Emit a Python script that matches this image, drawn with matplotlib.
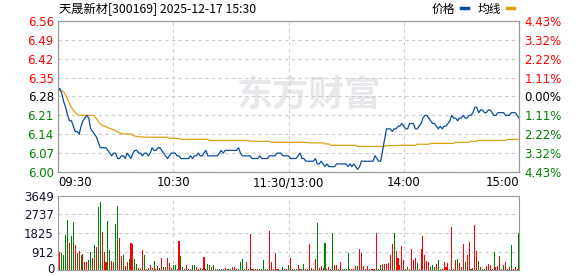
import numpy as np
import matplotlib
matplotlib.use('Agg')
import matplotlib.pyplot as plt
from matplotlib.lines import Line2D

plt.rcParams['font.family'] = ['DejaVu Sans', 'Noto Sans CJK SC']

# one value per minute, 09:30 .. 11:30 + 13:00 .. 15:00 (241 points)
price = [
    6.30, 6.31, 6.29, 6.26, 6.24, 6.21, 6.19, 6.19, 6.17, 6.15, 6.15,
    6.14, 6.17, 6.19, 6.20, 6.21, 6.20, 6.16, 6.15, 6.14, 6.13,
    6.11, 6.09, 6.09, 6.09, 6.09, 6.08, 6.07, 6.06, 6.07, 6.07,
    6.05, 6.05, 6.06, 6.06, 6.05, 6.07, 6.06, 6.05, 6.07, 6.08,
    6.08, 6.07, 6.07, 6.06, 6.07, 6.07, 6.06, 6.07, 6.09, 6.08,
    6.08, 6.09, 6.09, 6.08, 6.07, 6.06, 6.05, 6.06, 6.07, 6.07,
    6.07, 6.06, 6.06, 6.05, 6.05, 6.05, 6.05, 6.05, 6.06, 6.05,
    6.06, 6.06, 6.07, 6.06, 6.06, 6.07, 6.08, 6.06, 6.06, 6.06,
    6.06, 6.06, 6.06, 6.07, 6.08, 6.07, 6.08, 6.08, 6.08, 6.08,
    6.08, 6.08, 6.08, 6.09, 6.07, 6.06, 6.06, 6.06, 6.06, 6.06,
    6.05, 6.05, 6.05, 6.05, 6.06, 6.05, 6.05, 6.05, 6.05, 6.06,
    6.06, 6.06, 6.06, 6.07, 6.07, 6.07, 6.06, 6.06, 6.06, 6.06,
    6.05, 6.05, 6.05, 6.05, 6.06, 6.07, 6.05, 6.05, 6.04, 6.04,
    6.04, 6.04, 6.04, 6.05, 6.03, 6.03, 6.04, 6.03, 6.02, 6.03,
    6.02, 6.02, 6.02, 6.02, 6.03, 6.03, 6.03, 6.03, 6.03, 6.03,
    6.02, 6.03, 6.02, 6.03, 6.02, 6.01, 6.02, 6.04, 6.04, 6.04,
    6.04, 6.04, 6.04, 6.04, 6.06, 6.05, 6.04, 6.04, 6.08, 6.12,
    6.16, 6.16, 6.16, 6.15, 6.16, 6.16, 6.17, 6.17, 6.18, 6.17,
    6.16, 6.16, 6.18, 6.18, 6.18, 6.16, 6.16, 6.17, 6.18, 6.20,
    6.21, 6.21, 6.20, 6.19, 6.18, 6.18, 6.17, 6.16, 6.17, 6.16,
    6.17, 6.17, 6.18, 6.19, 6.21, 6.20, 6.20, 6.19, 6.20, 6.20,
    6.21, 6.20, 6.20, 6.21, 6.21, 6.22, 6.24, 6.24, 6.22, 6.23,
    6.23, 6.22, 6.22, 6.23, 6.23, 6.22, 6.21, 6.21, 6.22, 6.22,
    6.22, 6.22, 6.21, 6.21, 6.21, 6.22, 6.22, 6.22, 6.21, 6.20,
]

avg_price = [
    6.302, 6.302, 6.301, 6.297, 6.285, 6.268, 6.254, 6.240, 6.228, 6.220, 6.213,
    6.210, 6.210, 6.210, 6.210, 6.210, 6.210, 6.210, 6.210,
    6.206, 6.198, 6.187, 6.177, 6.173, 6.170, 6.168, 6.164, 6.162, 6.159,
    6.157, 6.153, 6.149, 6.145, 6.142,
    6.141, 6.141, 6.141, 6.141, 6.141,
    6.137, 6.133, 6.132, 6.131, 6.130, 6.130, 6.130,
    6.129, 6.129, 6.129, 6.129, 6.129, 6.129, 6.129, 6.129, 6.129, 6.129, 6.129, 6.129,
    6.125, 6.125, 6.125, 6.125, 6.125, 6.125,
    6.121, 6.121, 6.121, 6.121, 6.121, 6.121, 6.121, 6.121, 6.121, 6.121,
    6.121, 6.121, 6.121, 6.121, 6.121,
    6.117, 6.117, 6.117, 6.117, 6.117, 6.117, 6.117, 6.117, 6.117, 6.117,
    6.117, 6.117, 6.117, 6.117, 6.117, 6.117, 6.117, 6.117, 6.117, 6.117, 6.117,
    6.114, 6.114, 6.114, 6.114, 6.114, 6.114, 6.114, 6.114, 6.114, 6.114, 6.114,
    6.110, 6.110, 6.110, 6.110, 6.110, 6.110, 6.110, 6.110, 6.110, 6.110,
    6.110, 6.110, 6.110, 6.110, 6.110, 6.110, 6.110, 6.110, 6.110, 6.110,
    6.108, 6.108, 6.108, 6.108, 6.108, 6.108, 6.108, 6.108,
    6.104, 6.104, 6.104,
    6.099, 6.099, 6.099, 6.099, 6.099, 6.099, 6.099, 6.099, 6.099, 6.099,
    6.099, 6.099, 6.099, 6.099,
    6.095, 6.095, 6.095, 6.095, 6.095, 6.095, 6.095, 6.095, 6.095, 6.095,
    6.095, 6.095, 6.095, 6.095, 6.095,
    6.098, 6.098, 6.098, 6.098, 6.098, 6.098, 6.098,
    6.099, 6.099, 6.099, 6.099, 6.099, 6.099, 6.099, 6.099, 6.099,
    6.103, 6.103, 6.103, 6.103, 6.103, 6.103, 6.103,
    6.106, 6.106, 6.106, 6.106, 6.106, 6.106, 6.106, 6.106, 6.106, 6.106,
    6.106, 6.106, 6.106,
    6.110, 6.110, 6.110, 6.110, 6.110, 6.110, 6.110, 6.110,
    6.114, 6.114, 6.114, 6.114,
    6.117, 6.117, 6.117, 6.117, 6.117, 6.117, 6.117, 6.117, 6.117, 6.117,
    6.117, 6.117, 6.117, 6.117, 6.117,
    6.121, 6.121, 6.121, 6.121, 6.121, 6.121, 6.121,
]

# volume bars, minutes 1..240 (lots), r = up, g = down
volume = [
    904, 855, 740, 1726, 2466, 1348, 1677, 2384, 1233, 855,
    953, 740, 790, 411, 411, 493, 904, 608, 1233, 1151,
    3124, 3370, 1890, 904, 411, 2433, 986, 444, 411, 2269,
    3156, 1562, 690, 740, 197, 411, 526, 1315, 1266, 526,
    296, 100, 50, 986, 740, 33, 82, 247, 82, 444,
    33, 197, 82, 575, 132, 132, 575, 329, 82, 247,
    247, 33, 1430, 690, 132, 33, 247, 33, 60, 247,
    247, 132, 33, 82, 33, 625, 33, 296, 247, 132,
    247, 33, 33, 33, 33, 33, 82, 33, 33, 33,
    164, 132, 60, 33, 411, 542, 33, 411, 33, 1775,
    33, 33, 33, 33, 33, 33, 493, 33, 33, 1923,
    411, 33, 855, 33, 33, 10, 132, 33, 50, 247,
    608, 33, 33, 33, 247, 33, 33, 296, 33, 33,
    1282, 82, 33, 542, 2334, 82, 197, 82, 1348, 33,
    132, 33, 1841, 247, 247, 33, 411, 33, 33, 33,
    855, 33, 33, 33, 197, 197, 1035, 855, 197, 33,
    197, 33, 33, 33, 33, 1841, 33, 247, 296, 296,
    296, 362, 740, 1282, 1841, 953, 608, 247, 1183, 493,
    33, 132, 33, 1035, 493, 608, 362, 33, 1035, 1677,
    740, 444, 411, 132, 247, 132, 296, 493, 33, 33,
    411, 132, 362, 33, 2121, 33, 493, 542, 362, 132,
    1282, 411, 740, 1397, 33, 82, 2220, 953, 460, 132,
    33, 33, 197, 296, 247, 33, 904, 132, 197, 690,
    33, 247, 411, 33, 132, 1233, 33, 132, 33, 1841,
]
volume_dir = (
    "rggggrggrg" "rgrrrggrgr" "ggrrrggrrg" "grrgrrgrrg"
    "grrrgrrrrg" "rrgrggrrrg" "grrggrrgrg" "grrrrrrggr"
    "ggggggrrgg" "rrrgggrrgr" "rrgrrggggr" "rrrrrrgrrg"
    "rrgrrgggrr" "rgrrgrrrgr" "rrgrrrrggg" "ggrrrgrrrr"
    "rrrrrrggrr" "rrrrgrrrrr" "ggrrrrgrrr" "rrrgggrgrg"
    "rrrgrgrgrr" "rgrrgrrrgr" "ggrrrrgrrr" "rgrgrgrrrg"
)

prev_close = 6.28
price_ticks = [6.00, 6.07, 6.14, 6.21, 6.28, 6.35, 6.42, 6.49, 6.56]
pct_labels = ["4.43%", "3.32%", "2.22%", "1.11%", "0.00%", "1.11%", "2.22%", "3.32%", "4.43%"]
vol_ticks = [0, 912, 1825, 2737, 3649]
time_ticks = [0, 60, 120, 180, 240]
time_labels = ["09:30", "10:30", "11:30/13:00", "14:00", "15:00"]

assert len(price) == 241 and len(avg_price) == 241
assert len(volume) == 240 and len(volume_dir) == 240

W, H = 578, 276
fig = plt.figure(figsize=(W / 100, H / 100), dpi=100)


def box(l, t, r, b):
    return [l / W, 1 - b / H, (r - l) / W, (b - t) / H]


RED = '#ff0000'
GREEN = '#008000'
FRAME = '#999999'
GRID = '#cccccc'
CJK = ['Noto Sans CJK SC', 'DejaVu Sans']


def label_color(v):
    if abs(v - prev_close) < 1e-6:
        return '#000000'
    return RED if v > prev_close else GREEN


minutes = np.arange(len(price))

ax = fig.add_axes(box(58, 21, 519, 172))
ax.text(0.545, 0.51, '东方财富', transform=ax.transAxes, fontsize=26,
        fontweight='bold', color='#e8e8ec', ha='center', va='center',
        family='Noto Sans CJK SC', zorder=0)
ax.plot(minutes, avg_price, color='#e0a010', lw=0.9, zorder=3)
ax.plot(minutes, price, color='#0a4ca0', lw=0.9, zorder=4)
ax.set_xlim(0, 240)
ax.set_ylim(price_ticks[0], price_ticks[-1])
ax.set_xticks(time_ticks)
ax.set_xticklabels(time_labels, fontsize=8.5)
xl = ax.get_xticklabels()
xl[0].set_ha('left')
xl[-1].set_ha('right')
ax.set_yticks(price_ticks)
ax.set_yticklabels([f"{v:.2f}" for v in price_ticks], fontsize=8.5)
for t, v in zip(ax.get_yticklabels(), price_ticks):
    t.set_color(label_color(v))
ax.tick_params(length=0, pad=3)
ax.grid(True, ls=(0, (3, 3)), color=GRID, lw=0.8)

ax2 = ax.twinx()
ax2.set_ylim(price_ticks[0], price_ticks[-1])
ax2.set_yticks(price_ticks)
ax2.set_yticklabels(pct_labels, fontsize=8.5)
for t, v in zip(ax2.get_yticklabels(), price_ticks):
    t.set_color(label_color(v))
ax2.tick_params(length=0, pad=4)

for a in (ax, ax2):
    for s in a.spines.values():
        s.set_color(FRAME)

axv = fig.add_axes(box(58, 196, 519, 270))
vol_minutes = np.arange(1, len(volume) + 1)
axv.bar(vol_minutes, volume, width=0.55, antialiased=False,
        color=[RED if c == 'r' else GREEN for c in volume_dir], zorder=3)
axv.set_xlim(0, 240)
axv.set_ylim(0, vol_ticks[-1])
axv.set_xticks(time_ticks)
axv.set_xticklabels([])
axv.set_yticks(vol_ticks)
# the bottom "0" is placed by hand so it stays inside the picture
axv.set_yticklabels([''] + [str(v) for v in vol_ticks[1:]], fontsize=8.5, color='#111133')
axv.tick_params(length=0, pad=3)
axv.grid(True, ls=(0, (3, 3)), color=GRID, lw=0.8)
for s in axv.spines.values():
    s.set_color(FRAME)
fig.text(55 / W, 1 - 273 / H, str(vol_ticks[0]), fontsize=8.5, color='#111133',
         ha='right', va='baseline')

fig.text(59 / W, 1 - 9 / H, '天晟新材[300169] 2025-12-17 15:30', fontsize=8.8,
         ha='left', va='center', family=CJK)
fig.text(443 / W, 1 - 9 / H, '价格', fontsize=8.5, ha='center', va='center', family=CJK)
fig.text(489 / W, 1 - 9 / H, '均线', fontsize=8.5, ha='center', va='center', family=CJK)
fig.add_artist(Line2D([461 / W, 468 / W], [1 - 8 / H, 1 - 8 / H], color='#0a4ca0',
                      lw=2.5, transform=fig.transFigure))
fig.add_artist(Line2D([507 / W, 514 / W], [1 - 8 / H, 1 - 8 / H], color='#e0a010',
                      lw=2.5, transform=fig.transFigure))

fig.savefig('out.png', dpi=100)
